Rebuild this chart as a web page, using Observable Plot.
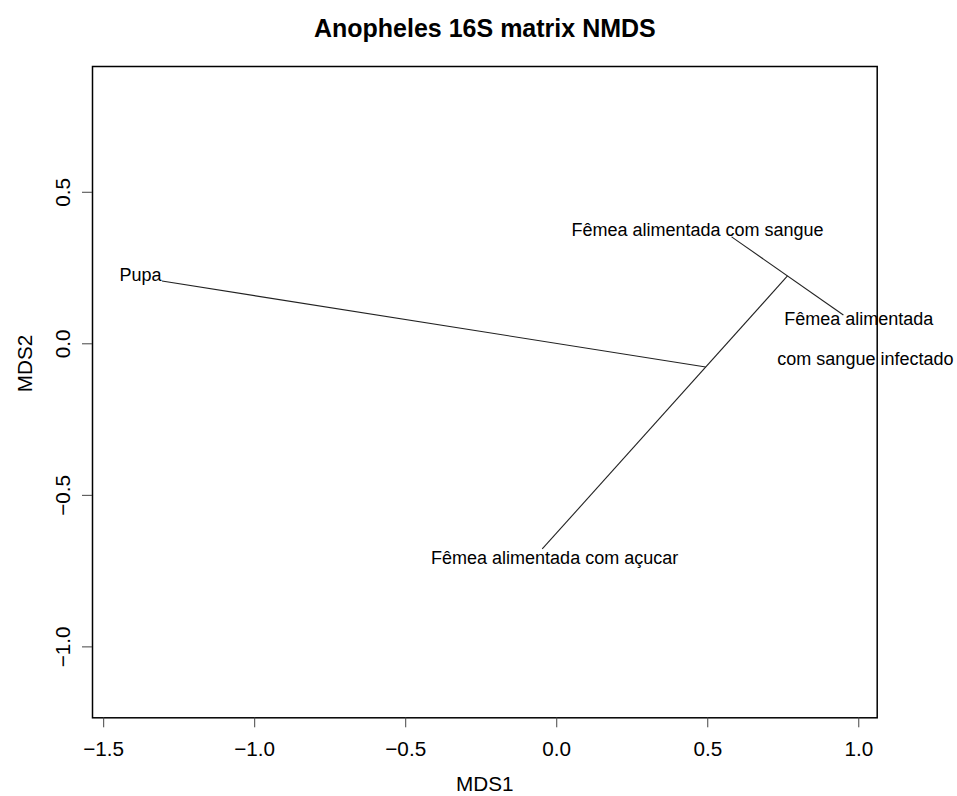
<!DOCTYPE html>
<html>
<head>
<meta charset="utf-8">
<script src="https://cdn.jsdelivr.net/npm/d3@7"></script>
<script src="https://cdn.jsdelivr.net/npm/@observablehq/plot@0.6"></script>
<style>
  body { margin: 0; background: #fff; }
  #chart svg { display: block; }
</style>
</head>
<body>
<div id="chart"></div>
<script>
// ---- data ----
const chartTitle = "Anopheles 16S matrix NMDS";
const sampleNames = ["Pupa", "Fêmea alimentada com sangue", "Fêmea alimentada com sangue infectado", "Fêmea alimentada com açucar"];
const mds1 = [-1.307, 0.579, 0.949, -0.048];
const mds2 = [0.207, 0.353, 0.095, -0.677];

// hclust-style merge table (negative = sample index+1, positive = earlier merge)
const mergeLeft  = [-2, 1, 2];
const mergeRight = [-3, -4, -1];

// label positions (centre of text) as placed in the reference
const labelText = ["Pupa", "Fêmea alimentada com sangue", "Fêmea alimentada", "com sangue infectado", "Fêmea alimentada com açucar"];
const labelX = [-1.378, 0.466, 1.000, 1.022, -0.007];
const labelY = [0.227, 0.376, 0.082, -0.052, -0.706];

const xTicks = [-1.5, -1.0, -0.5, 0.0, 0.5, 1.0];
const yTicks = [-1.0, -0.5, 0.0, 0.5];
const xDomain = [-1.537, 1.061];
const yDomain = [-1.234, 0.915];
const xTitle = "MDS1";
const yTitle = "MDS2";

// ---- build ordicluster-like segments ----
const nodes = []; // merged cluster centroids
function nodeOf(k) {
  if (k < 0) return {x: mds1[-k - 1], y: mds2[-k - 1], n: 1};
  return nodes[k - 1];
}
const segments = [];
for (let i = 0; i < mergeLeft.length; i++) {
  const a = nodeOf(mergeLeft[i]);
  const b = nodeOf(mergeRight[i]);
  segments.push({x1: a.x, y1: a.y, x2: b.x, y2: b.y});
  const n = a.n + b.n;
  nodes.push({x: (a.x * a.n + b.x * b.n) / n, y: (a.y * a.n + b.y * b.n) / n, n});
}
const labels = labelText.map((t, i) => ({text: t, x: labelX[i], y: labelY[i]}));

const fmt = d3.format(".1f");
const FONT = "'Liberation Sans', Arial, Helvetica, sans-serif";

const chart = Plot.plot({
  width: 957,
  height: 796,
  marginTop: 66,
  marginBottom: 78.7,
  marginLeft: 92,
  marginRight: 80.3,
  x: {domain: xDomain},
  y: {domain: yDomain},
  style: {fontFamily: FONT, background: "#fff", color: "#000"},
  marks: [
    Plot.link(segments, {x1: "x1", y1: "y1", x2: "x2", y2: "y2", stroke: "#222", strokeWidth: 1.1}),
    Plot.text(labels, {x: "x", y: "y", text: "text", fontSize: 18, textAnchor: "middle", lineAnchor: "middle", fill: "#000"}),
    Plot.frame({stroke: "#000", strokeWidth: 1.5}),
    Plot.axisX({ticks: xTicks, tickSize: 10, tickPadding: 13.6, fontSize: 20.7, tickFormat: fmt, stroke: "#444", fill: "#000", label: null}),
    Plot.axisY({ticks: yTicks, tickSize: 10, tickFormat: () => "", stroke: "#444", label: null}),
    Plot.text(yTicks, {y: d => d, text: d => fmt(d), frameAnchor: "left", dx: -29.5, rotate: -90, fontSize: 20.7, textAnchor: "middle", lineAnchor: "middle", fill: "#000"}),
    Plot.text([xTitle], {text: d => d, frameAnchor: "bottom", dy: 66.7, fontSize: 20.7, lineAnchor: "middle", fill: "#000"}),
    Plot.text([yTitle], {text: d => d, frameAnchor: "left", dx: -67, rotate: -90, fontSize: 20.7, lineAnchor: "middle", fill: "#000"}),
    Plot.text([chartTitle], {text: d => d, frameAnchor: "top", dy: -38, fontSize: 25, fontWeight: "bold", lineAnchor: "middle", fill: "#000"})
  ]
});
document.getElementById("chart").appendChild(chart);
</script>
</body>
</html>
